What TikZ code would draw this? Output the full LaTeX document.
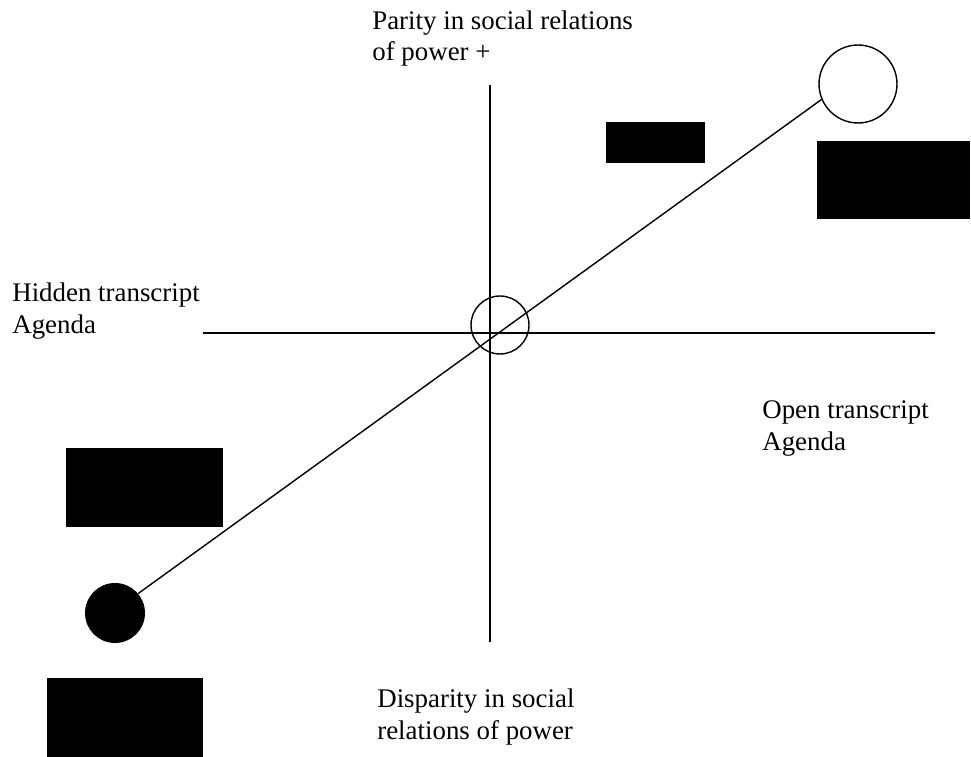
\documentclass[tikz,border=0pt]{standalone}
\usepackage{fontspec}
\setmainfont{Liberation Serif}
\usepackage{tikz}

\begin{document}
\begin{tikzpicture}[x=0.02cm,y=-0.02cm,
    lbl/.style={anchor=base west,inner sep=0pt,align=left,font=\fontsize{15.3}{18}\selectfont},
    blot/.style={rectangle,fill=black,draw=none,inner sep=0pt},
    ring/.style={circle,draw,line width=0.8pt,inner sep=0pt}]
    \useasboundingbox (0,0) rectangle (971,757);
    % Draw the two axes
    \coordinate (vtop) at (490,85);
    \coordinate (vbot) at (490,642);
    \coordinate (hleft) at (203,333);
    \coordinate (hright) at (935,333);
    \draw[line width=0.8pt] (vtop) -- (vbot);
    \draw[line width=0.8pt] (hleft) -- (hright);
    % Axis labels (base is the last line)
    \node[lbl] (parity) at (372,61) {Parity in social relations\\of power +};
    \node[lbl] (hidden) at (12,333) {Hidden transcript\\Agenda};
    \node[lbl] (open) at (762,450) {Open transcript\\Agenda};
    \node[lbl] (disparity) at (377,739) {Disparity in social\\relations of power};
    % Circles on the diagonal
    \node[ring,minimum size=1.16cm] (mid) at (500,325) {};
    \node[ring,minimum size=1.56cm] (top) at (858,84) {};
    \node[circle,fill=black,inner sep=0pt,minimum size=1.2cm] (low) at (115,613) {};
    \draw[line width=0.8pt] (low.40) -- (top.203);
    % Blacked out boxes
    \node[blot,minimum width=1.98cm,minimum height=0.82cm] (boxa) at (655.5,142.5) {};
    \node[blot,minimum width=3.06cm,minimum height=1.56cm] (boxb) at (893.5,180) {};
    \node[blot,minimum width=3.14cm,minimum height=1.58cm] (boxc) at (144.5,487.5) {};
    \node[blot,minimum width=3.12cm,minimum height=1.58cm] (boxd) at (125,717.5) {};
\end{tikzpicture}
\end{document}
